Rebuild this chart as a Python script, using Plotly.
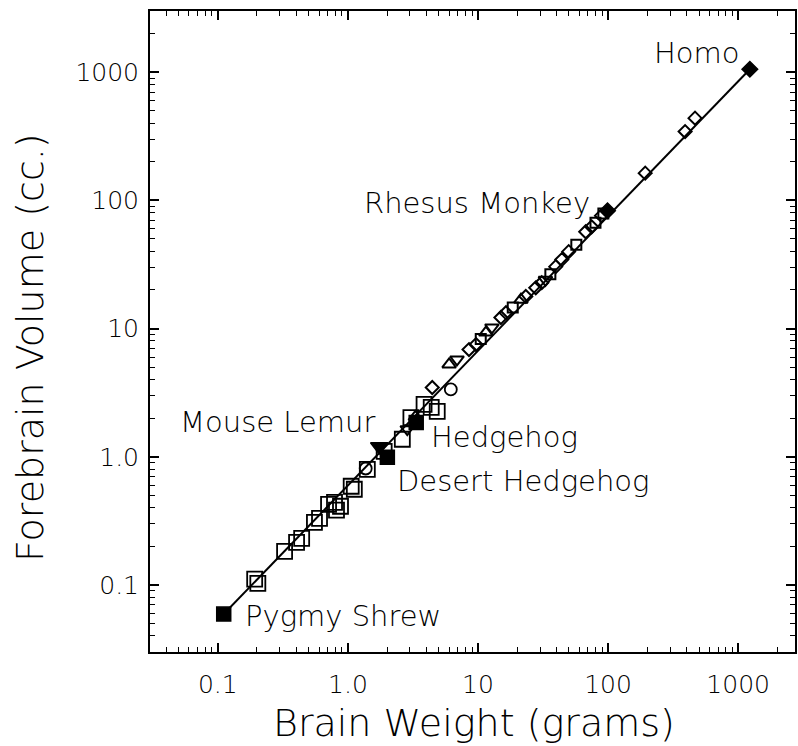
import numpy as np
import plotly.graph_objects as go

# ---- data: brain weight (g) vs forebrain volume (cc) ----
# insectivores (open squares)
insect_x = [0.192, 0.203, 0.326, 0.403, 0.441, 0.553, 0.605, 0.710, 0.789, 0.817,
            0.877, 1.06, 1.12, 1.41, 1.90, 2.62, 3.05, 3.85, 4.37, 4.86]
insect_y = [0.111, 0.103, 0.183, 0.215, 0.231, 0.308, 0.331, 0.426, 0.441, 0.383,
            0.411, 0.589, 0.558, 0.798, 1.10, 1.37, 2.02, 2.56, 2.43, 2.26]

# tree shrews (open circles)
tupaia_x = [1.37, 6.18]
tupaia_y = [0.81, 3.35]

# prosimians (open triangles)
prosim_dn_x = [2.86, 6.9, 12.8, 33.0]
prosim_dn_y = [1.64, 5.74, 10.2, 24.0]
prosim_up_x = [3.3, 6.0, 11.5, 21.4]
prosim_up_y = [2.05, 5.25, 9.31, 16.8]

# simians (open diamonds and small squares)
simian_x = [4.45, 8.53, 9.66, 15.0, 16.4, 23.3, 27.8, 30.9, 39.6, 44.1, 49.8,
            67.3, 74.8, 89.0, 193.0, 391.0, 466.0]
simian_y = [3.47, 6.86, 7.5, 12.2, 13.3, 17.8, 20.8, 22.8, 30.4, 34.5, 39.8,
            56.9, 62.2, 76.0, 163.0, 344.0, 438.0]
simian_sq_x = [10.5, 18.5, 36.0, 57.0, 80.0, 92.0]
simian_sq_y = [8.3, 14.6, 26.5, 45.0, 67.0, 79.0]

# labelled species (filled symbols)
named = ["Pygmy Shrew", "Desert Hedgehog", "Hedgehog", "Mouse Lemur", "Rhesus Monkey", "Homo"]
named_x = [0.111, 2.01, 3.35, 1.74, 99.0, 1230.0]
named_y = [0.0593, 0.99, 1.85, 1.20, 83.0, 1054.0]
named_symbol = ["square", "square", "square", "triangle-down", "diamond", "diamond"]
named_size = [14, 14, 14, 15, 12, 12]

# fitted power-law line, endpoints
fit_x = [0.111, 1230.0]
fit_y = [0.0593, 1054.0]

# axis ticks
major_ticks = [0.1, 1, 10, 100, 1000]
major_text = ["0.1", "1.0", "10", "100", "1000"]

INK = "#000000"
TEXT = "#000000"
FONT = "DejaVu Sans"
WEIGHT = 200

fig = go.Figure()

fig.add_trace(go.Scatter(x=fit_x, y=fit_y, mode="lines",
                         line=dict(color=INK, width=2), hoverinfo="skip"))


def open_marks(xs, ys, symbol, size, lw=1.8):
    fig.add_trace(go.Scatter(
        x=xs, y=ys, mode="markers", opacity=1,
        marker=dict(symbol=symbol + "-open", size=size, color=INK, opacity=1,
                    line=dict(color=INK, width=lw))))


open_marks(insect_x, insect_y, "square", 15)
open_marks(tupaia_x, tupaia_y, "circle", 12)
open_marks(prosim_dn_x, prosim_dn_y, "triangle-down", 12, 2)
open_marks(prosim_up_x, prosim_up_y, "triangle-up", 12, 2)
open_marks(simian_x, simian_y, "diamond", 10, 2)
open_marks(simian_sq_x, simian_sq_y, "square", 10, 2)

fig.add_trace(go.Scatter(
    x=named_x, y=named_y, mode="markers", opacity=1,
    marker=dict(symbol=named_symbol, size=named_size, color=INK, opacity=1,
                line=dict(color=INK, width=1.5))))

# label placement relative to each labelled point
label_pos = {
    "Pygmy Shrew": dict(xanchor="left", xshift=19, yshift=-2),
    "Desert Hedgehog": dict(xanchor="left", xshift=8, yshift=-24),
    "Hedgehog": dict(xanchor="left", xshift=13, yshift=-14),
    "Mouse Lemur": dict(xanchor="right", xshift=-2, yshift=25),
    "Rhesus Monkey": dict(xanchor="right", xshift=-16, yshift=8),
    "Homo": dict(xanchor="right", xshift=-8, yshift=16),
}
for name, xv, yv in zip(named, named_x, named_y):
    p = label_pos[name]
    fig.add_annotation(x=np.log10(xv), y=np.log10(yv), text=name, showarrow=False,
                       xanchor=p["xanchor"], yanchor="middle",
                       xshift=p["xshift"], yshift=p["yshift"],
                       font=dict(family=FONT, size=29, color=TEXT, weight=WEIGHT))

# axis titles
fig.add_annotation(xref="paper", yref="paper", x=0.502, y=-0.1106,
                   text="Brain Weight (grams)", showarrow=False,
                   xanchor="center", yanchor="middle",
                   font=dict(family=FONT, size=38, color=TEXT, weight=WEIGHT))
fig.add_annotation(xref="paper", yref="paper", x=-0.187, y=0.475,
                   text="Forebrain Volume (cc.)", showarrow=False, textangle=-90,
                   xanchor="center", yanchor="middle",
                   font=dict(family=FONT, size=38, color=TEXT, weight=WEIGHT))

minor_ticks = [m * 10.0 ** k for k in range(-2, 4) for m in range(2, 10)]

axis_common = dict(
    type="log", tickvals=major_ticks, ticktext=major_text,
    ticks="inside", ticklen=9, tickwidth=1.5, tickcolor=INK,
    showline=True, linecolor=INK, linewidth=2, mirror="allticks",
    showgrid=False, zeroline=False,
    tickfont=dict(family=FONT, size=25, color=TEXT, weight=WEIGHT),
    minor=dict(tickvals=minor_ticks, ticks="inside", ticklen=5,
               tickwidth=1.3, tickcolor=INK, showgrid=False),
)

fig.update_xaxes(range=[np.log10(0.0301), 3.437], ticklabelstandoff=9, **axis_common)
fig.update_yaxes(range=[np.log10(0.03), np.log10(3000)], ticklabelstandoff=4, **axis_common)

fig.update_layout(
    width=798, height=746,
    margin=dict(l=150, r=1, t=11, b=94),
    plot_bgcolor="white", paper_bgcolor="white",
    showlegend=False,
)

fig.write_html("out.html")
